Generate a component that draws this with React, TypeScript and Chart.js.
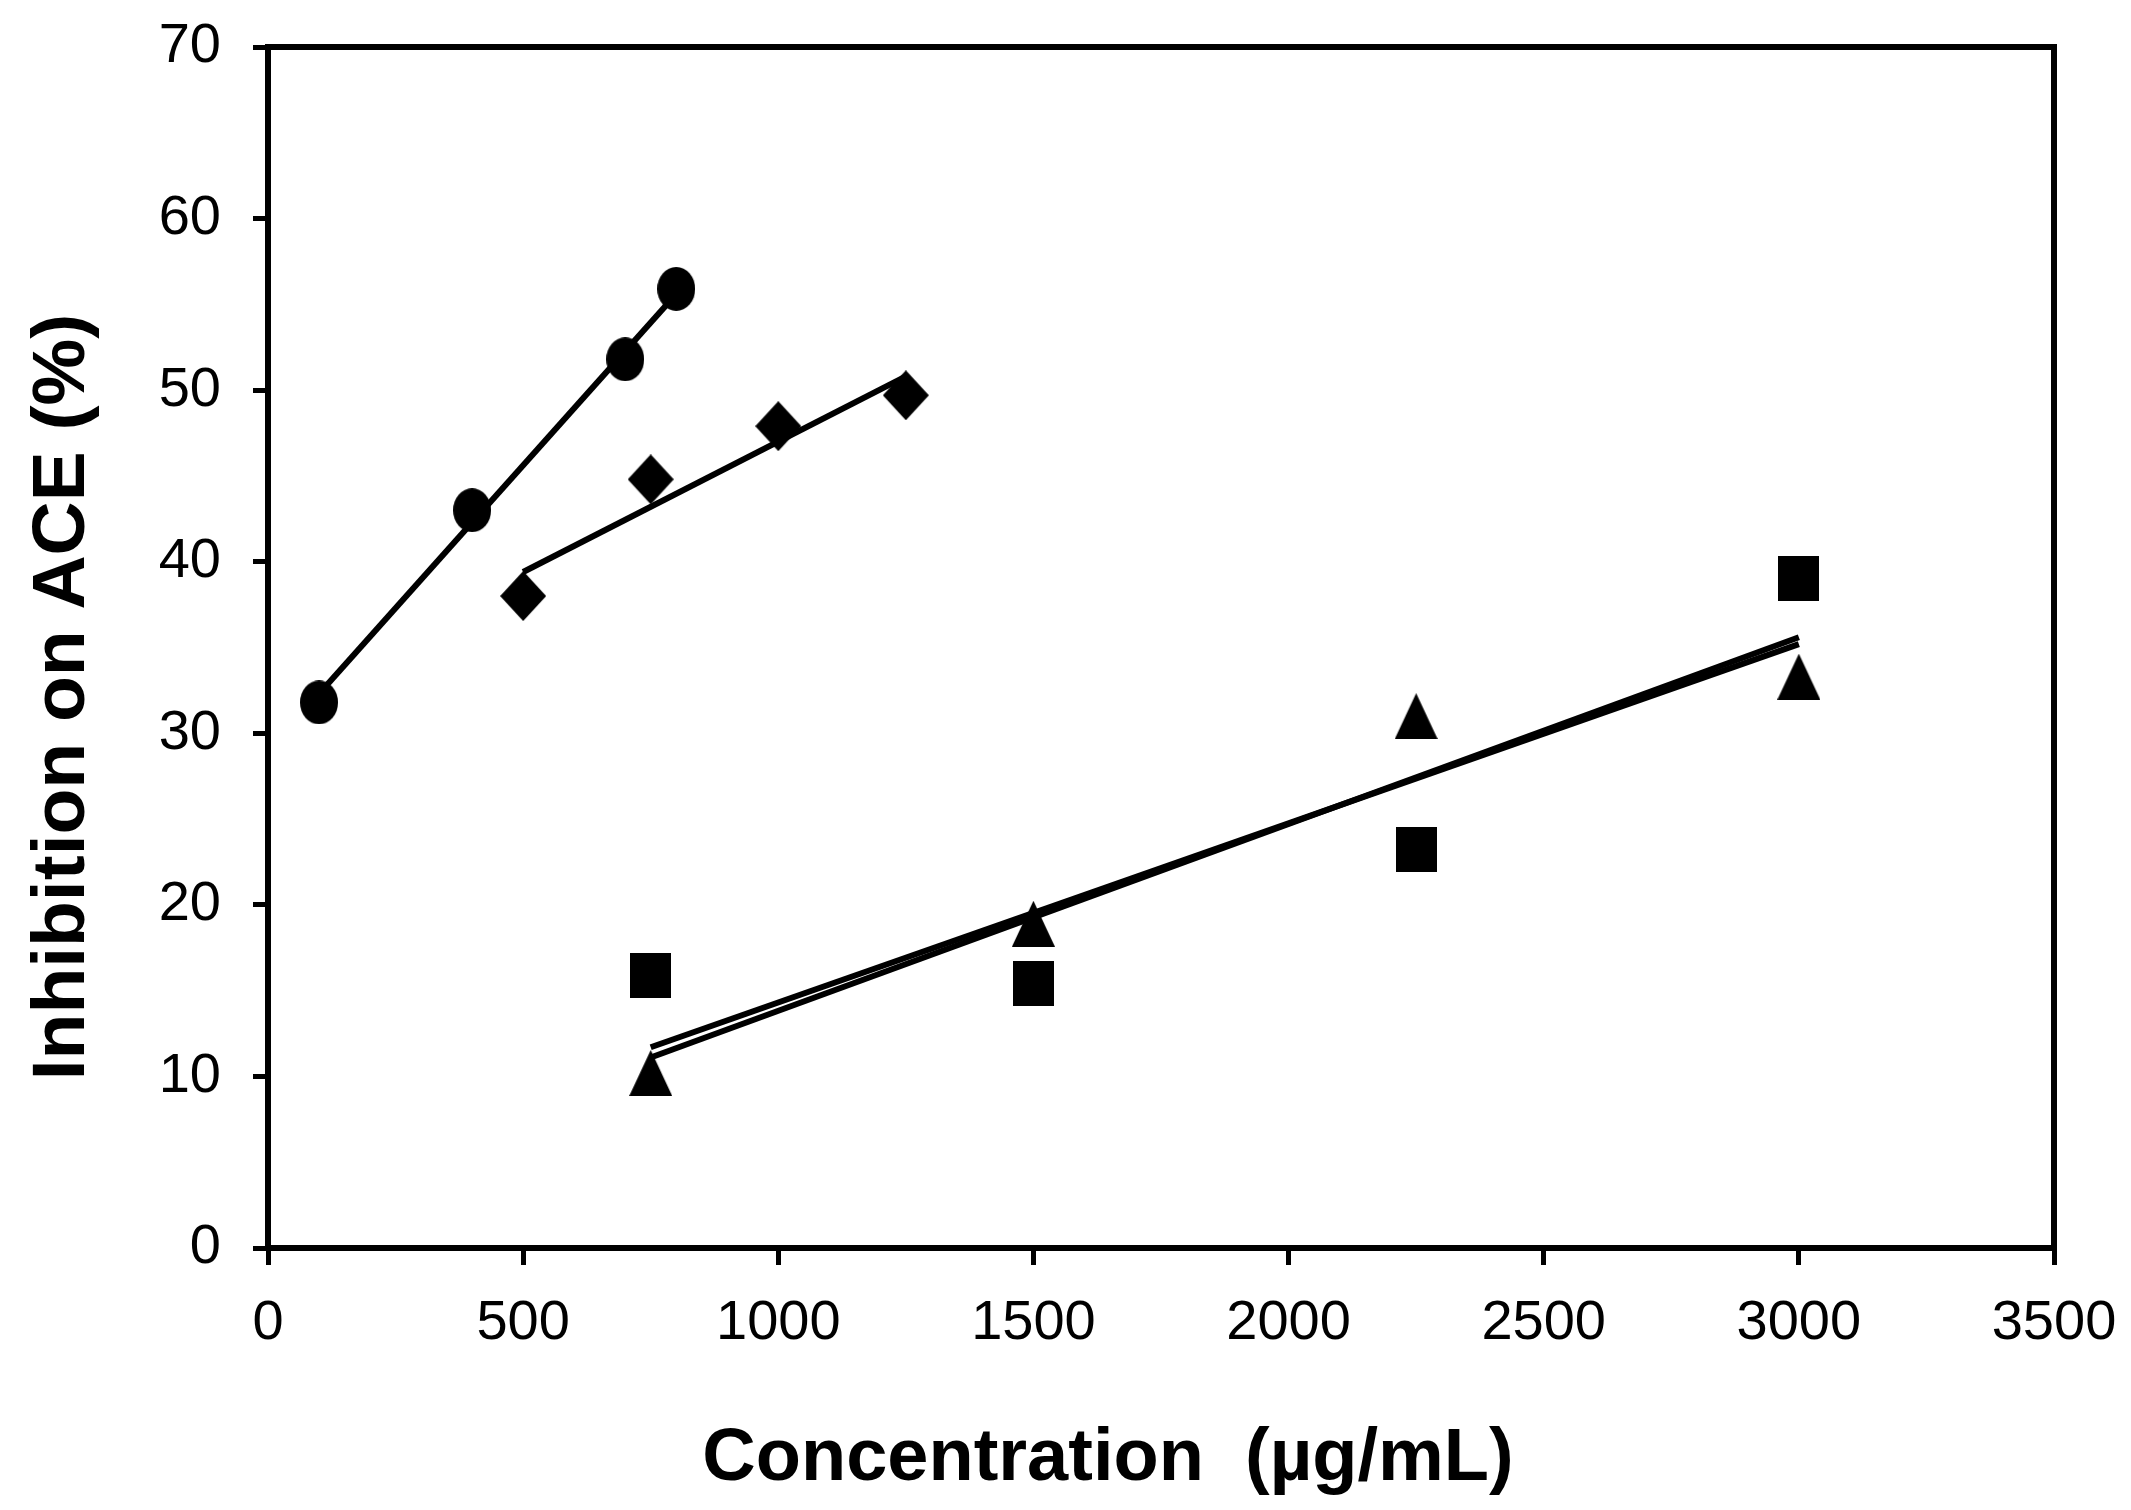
import { useEffect, useRef } from "react";
import { Chart, registerables } from "chart.js";

Chart.register(...registerables);

const circleX = [100, 400, 700, 800];
const circleY = [31.8, 43.0, 51.8, 55.9];
const diamondX = [500, 750, 1000, 1250];
const diamondY = [38.0, 44.8, 47.9, 49.7];
const squareX = [750, 1500, 2250, 3000];
const squareY = [15.9, 15.4, 23.2, 39.0];
const triangleX = [750, 1500, 2250, 3000];
const triangleY = [10.2, 18.9, 31.0, 33.3];

// trend line end points
const circleFitX = [100, 800];
const circleFitY = [32.3, 55.6];
const diamondFitX = [500, 1250];
const diamondFitY = [39.4, 50.8];
const squareFitX = [750, 3000];
const squareFitY = [11.7, 35.2];
const triangleFitX = [750, 3000];
const triangleFitY = [11.1, 35.6];

const xTicks = [0, 500, 1000, 1500, 2000, 2500, 3000, 3500];
const yTicks = [0, 10, 20, 30, 40, 50, 60, 70];

const xTitle = "Concentration  (\u00b5g/mL)";
const yTitle = "Inhibition on ACE (%)";

const family = "'Liberation Sans', Arial, sans-serif";

function zip(xs: number[], ys: number[]) {
  return xs.map((x, i) => ({ x, y: ys[i] }));
}

function marker(shape: string, w: number, h: number) {
  const c = document.createElement("canvas");
  c.width = w;
  c.height = h;
  const g = c.getContext("2d")!;
  g.fillStyle = "#000";
  g.beginPath();
  if (shape === "circle") {
    g.ellipse(w / 2, h / 2, w / 2, h / 2, 0, 0, Math.PI * 2);
  } else if (shape === "diamond") {
    g.moveTo(w / 2, 0);
    g.lineTo(w, h / 2);
    g.lineTo(w / 2, h);
    g.lineTo(0, h / 2);
    g.closePath();
  } else if (shape === "square") {
    g.rect(0, 0, w, h);
  } else {
    g.moveTo(w / 2, 0);
    g.lineTo(w, h);
    g.lineTo(0, h);
    g.closePath();
  }
  g.fill();
  return c;
}

const frame = {
  id: "frame",
  beforeDatasetsDraw(chart: any) {
    const { ctx, chartArea } = chart;
    ctx.save();
    ctx.strokeStyle = "#000";
    ctx.lineWidth = 6;
    ctx.strokeRect(chartArea.left, chartArea.top, chartArea.right - chartArea.left, chartArea.bottom - chartArea.top);
    ctx.restore();
  },
};

const axisTitles = {
  id: "axisTitles",
  afterDraw(chart: any) {
    const ctx = chart.ctx;
    ctx.save();
    ctx.fillStyle = "#000";
    ctx.textAlign = "center";
    ctx.textBaseline = "middle";
    ctx.font = "bold 74px " + family;
    ctx.fillText(xTitle, 1108, 1460);
    ctx.translate(63, 697);
    ctx.rotate(-Math.PI / 2);
    ctx.font = "bold 75px " + family;
    ctx.fillText(yTitle, 0, 0);
    ctx.restore();
  },
};

export default function App() {
  const chartRef = useRef<HTMLCanvasElement>(null);
  const chartInstance = useRef<Chart | null>(null);

  useEffect(() => {
    if (!chartRef.current) return;
    const ctx = chartRef.current.getContext("2d");
    if (!ctx) return;
    if (chartInstance.current) chartInstance.current.destroy();

    const fit = (xs: number[], ys: number[]) => ({
      type: "line" as const,
      data: zip(xs, ys),
      borderColor: "#000",
      borderWidth: 6,
      pointRadius: 0,
      showLine: true,
      fill: false,
    });
    const pts = (xs: number[], ys: number[], style: HTMLCanvasElement) => ({
      type: "scatter" as const,
      data: zip(xs, ys),
      pointStyle: style,
      pointRadius: 22,
      showLine: false,
    });

    chartInstance.current = new Chart(ctx, {
      type: "scatter",
      data: {
        datasets: [
          fit(circleFitX, circleFitY),
          fit(diamondFitX, diamondFitY),
          fit(squareFitX, squareFitY),
          fit(triangleFitX, triangleFitY),
          pts(circleX, circleY, marker("circle", 38, 44)),
          pts(diamondX, diamondY, marker("diamond", 46, 50)),
          pts(squareX, squareY, marker("square", 41, 45)),
          pts(triangleX, triangleY, marker("triangle", 43, 46)),
        ] as any,
      },
      options: {
        responsive: false,
        animation: false,
        events: [],
        clip: false as any,
        layout: { padding: { top: 47, right: 77, left: 0, bottom: 0 } },
        plugins: {
          legend: { display: false },
          tooltip: { enabled: false },
        },
        scales: {
          x: {
            type: "linear",
            min: 0,
            max: 3500,
            afterBuildTicks: (s: any) => {
              s.ticks = xTicks.map((v) => ({ value: v }));
            },
            afterFit: (s: any) => {
              s.height = 262;
              s.paddingLeft = 0;
              s.paddingRight = 0;
            },
            border: { display: false },
            grid: {
              drawOnChartArea: false,
              drawTicks: true,
              tickLength: 17,
              tickWidth: 5,
              color: "#000",
              lineWidth: 5,
            },
            ticks: {
              color: "#000",
              padding: 25,
              maxRotation: 0,
              autoSkip: false,
              callback: (v: any) => String(v),
              font: { family, size: 56 },
            },
          },
          y: {
            type: "linear",
            min: 0,
            max: 70,
            afterBuildTicks: (s: any) => {
              s.ticks = yTicks.map((v) => ({ value: v }));
            },
            afterFit: (s: any) => {
              s.width = 268;
              s.paddingTop = 0;
              s.paddingBottom = 0;
            },
            border: { display: false },
            grid: {
              drawOnChartArea: false,
              drawTicks: true,
              tickLength: 15,
              tickWidth: 5,
              color: "#000",
              lineWidth: 5,
            },
            ticks: {
              color: "#000",
              padding: 32,
              autoSkip: false,
              callback: (v: any) => String(v),
              font: { family, size: 56 },
            },
          },
        },
      },
      plugins: [frame, axisTitles],
    });

    return () => {
      if (chartInstance.current) {
        chartInstance.current.destroy();
        chartInstance.current = null;
      }
    };
  }, []);

  return (
    <div style={{ position: "absolute", left: 0, top: 0, width: 2131, height: 1510, background: "#fff" }}>
      <canvas ref={chartRef} width={2131} height={1510} style={{ width: 2131, height: 1510 }}></canvas>
    </div>
  );
}
